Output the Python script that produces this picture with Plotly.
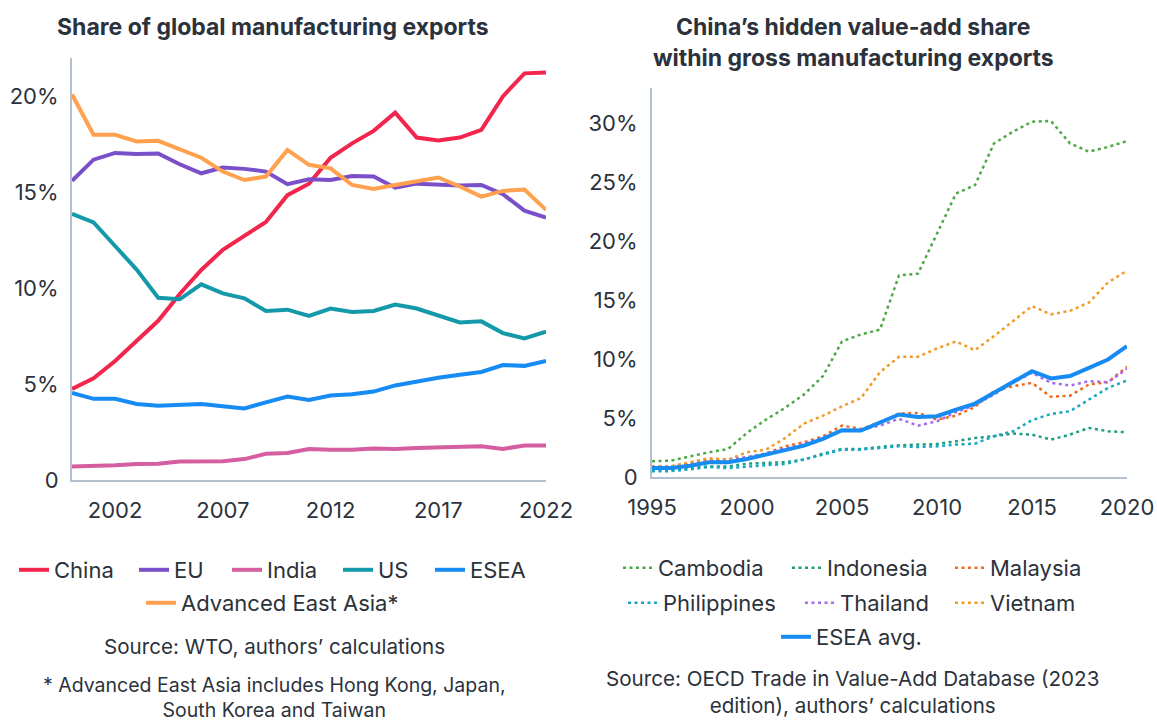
import plotly.graph_objects as go

# ---------------- Left chart data: share of global manufacturing exports (%)
years_left = list(range(2000, 2023))
china = [4.75, 5.3, 6.2, 7.25, 8.3, 9.7, 10.95, 12.0, 12.75, 13.45, 14.85, 15.45, 16.8,
         17.55, 18.2, 19.15, 17.85, 17.7, 17.85, 18.25, 20.0, 21.2, 21.25]
eu = [15.6, 16.7, 17.05, 16.99, 17.02, 16.46, 15.99, 16.29, 16.22, 16.08, 15.42, 15.68, 15.64,
      15.85, 15.82, 15.24, 15.45, 15.38, 15.35, 15.38, 14.9, 14.04, 13.68]
india = [0.7, 0.72, 0.77, 0.83, 0.85, 0.97, 0.97, 0.98, 1.09, 1.37, 1.41, 1.62, 1.58,
         1.58, 1.64, 1.62, 1.67, 1.69, 1.69, 1.76, 1.62, 1.8, 1.8]
us = [13.87, 13.43, 12.2, 10.97, 9.5, 9.42, 10.2, 9.73, 9.47, 8.81, 8.88, 8.55, 8.94,
      8.76, 8.81, 9.15, 8.94, 8.55, 8.21, 8.27, 7.66, 7.38, 7.73]
esea = [4.54, 4.23, 4.23, 3.96, 3.87, 3.93, 3.96, 3.84, 3.73, 4.05, 4.35, 4.17, 4.4,
        4.47, 4.61, 4.93, 5.14, 5.33, 5.49, 5.63, 5.99, 5.95, 6.2]
adv_east_asia = [20.1, 18.0, 18.0, 17.65, 17.68, 17.26, 16.8, 16.08, 15.64, 15.82, 17.21, 16.43, 16.25,
                 15.38, 15.17, 15.38, 15.6, 15.77, 15.3, 14.77, 15.07, 15.14, 14.08]
left_xticks = [2002, 2007, 2012, 2017, 2022]
left_yticks = [0, 5, 10, 15, 20]
left_yticklabels = ["0", "5%", "10%", "15%", "20%"]

# ---------------- Right chart data: China's hidden value-add share (%)
years_right = list(range(1995, 2021))
cambodia = [1.33, 1.39, 1.75, 2.1, 2.38, 3.74, 4.87, 5.86, 7.0, 8.56, 11.5, 12.1, 12.5,
            17.1, 17.25, 20.65, 24.05, 24.76, 28.3, 29.3, 30.14, 30.2, 28.3, 27.6, 28.0, 28.5]
indonesia = [0.57, 0.6, 0.75, 0.9, 0.9, 1.13, 1.2, 1.25, 1.47, 1.98, 2.38, 2.38, 2.55,
             2.69, 2.75, 2.8, 3.03, 3.31, 3.46, 3.68, 3.6, 3.17, 3.6, 4.16, 3.88, 3.8]
malaysia = [0.9, 0.9, 1.2, 1.45, 1.3, 1.6, 2.0, 2.6, 2.95, 3.45, 4.36, 4.08, 4.65,
            5.38, 5.44, 4.87, 5.2, 5.95, 7.28, 7.7, 7.99, 6.8, 6.9, 7.85, 8.05, 9.35]
philippines = [0.48, 0.5, 0.65, 0.85, 0.76, 0.9, 1.0, 1.1, 1.47, 1.9, 2.32, 2.32, 2.46,
               2.6, 2.55, 2.6, 2.75, 2.83, 3.46, 3.88, 4.82, 5.35, 5.58, 6.57, 7.56, 8.19]
thailand = [0.85, 0.85, 1.1, 1.3, 1.53, 1.7, 2.0, 2.4, 2.8, 3.3, 3.95, 4.0, 4.36,
            4.93, 4.36, 4.73, 5.5, 6.1, 7.0, 8.0, 8.84, 7.99, 7.76, 8.13, 8.05, 9.18]
vietnam = [0.85, 0.9, 1.25, 1.6, 1.47, 2.1, 2.32, 3.3, 4.53, 5.2, 6.0, 6.7, 8.9,
           10.2, 10.2, 10.9, 11.5, 10.76, 11.95, 13.2, 14.5, 13.8, 14.1, 14.8, 16.5, 17.5]
esea_avg = [0.76, 0.76, 0.96, 1.25, 1.25, 1.53, 1.9, 2.27, 2.66, 3.23, 3.97, 3.94, 4.59,
            5.3, 5.1, 5.16, 5.72, 6.23, 7.14, 8.05, 8.98, 8.36, 8.56, 9.26, 9.97, 11.1]
right_xticks = [1995, 2000, 2005, 2010, 2015, 2020]
right_yticks = [0, 5, 10, 15, 20, 25, 30]
right_yticklabels = ["0", "5%", "10%", "15%", "20%", "25%", "30%"]

W, H = 1157, 724
FONT = "Inter"
TXT = "#2B323C"
AXIS = "#B3C0CE"


def px(x):
    return x / W


def py(y):
    return 1 - y / H


fig = go.Figure()

# (name, values, colour, legend id, legend text x, legend row y)
left_series = [
    ("China", china, "#F2254C", "legend", 54, 570),
    ("EU", eu, "#7A50CA", "legend2", 174, 570),
    ("India", india, "#D45EA0", "legend3", 267, 570),
    ("US", us, "#1399A9", "legend4", 378, 570),
    ("ESEA", esea, "#168BF3", "legend5", 470, 570),
    ("Advanced East Asia*", adv_east_asia, "#FFA14E", "legend6", 181, 603),
]
right_series = [
    ("Cambodia", cambodia, "#4CA845", "legend7", 658, 568),
    ("Indonesia", indonesia, "#1C9E80", "legend8", 827, 568),
    ("Malaysia", malaysia, "#EE6A24", "legend9", 990, 568),
    ("Philippines", philippines, "#18A6C4", "legend10", 663, 603),
    ("Thailand", thailand, "#A46CF2", "legend11", 840, 603),
    ("Vietnam", vietnam, "#F29A26", "legend12", 990, 603),
]

legend_common = dict(orientation="h", xanchor="left", yanchor="middle",
                     font=dict(family=FONT, size=22, color=TXT), bgcolor="rgba(0,0,0,0)",
                     itemclick=False, itemdoubleclick=False, borderwidth=0)
legends = {}

for name, vals, color, lg, tx, ty in left_series:
    fig.add_trace(go.Scatter(x=years_left, y=vals, name=name, mode="lines",
                             line=dict(color=color, width=4), xaxis="x", yaxis="y",
                             legend=lg))
    legends[lg] = dict(x=px(tx - 40), y=py(ty), **legend_common)

for name, vals, color, lg, tx, ty in right_series:
    fig.add_trace(go.Scatter(x=years_right, y=vals, name=name, mode="lines",
                             line=dict(color=color, width=2.5, dash="3px,3.5px"),
                             xaxis="x2", yaxis="y2", legend=lg))
    legends[lg] = dict(x=px(tx - 40), y=py(ty), **legend_common)

fig.add_trace(go.Scatter(x=years_right, y=esea_avg, name="ESEA avg.", mode="lines",
                         line=dict(color="#168BF3", width=4), xaxis="x2", yaxis="y2",
                         legend="legend13"))
legends["legend13"] = dict(x=px(816 - 40), y=py(637), **legend_common)

axis_common = dict(showgrid=False, zeroline=False, showline=True, linecolor=AXIS,
                   linewidth=2, ticks="", tickfont=dict(family=FONT, size=22, color=TXT),
                   fixedrange=True, automargin=False)

fig.update_layout(
    width=W, height=H,
    margin=dict(l=0, r=0, t=0, b=0, autoexpand=False),
    paper_bgcolor="white", plot_bgcolor="white",
    font=dict(family=FONT, color=TXT),
    xaxis=dict(domain=[px(72), px(546)], range=[2000, 2022], tickvals=left_xticks,
               anchor="y", ticklabelstandoff=10, **axis_common),
    yaxis=dict(domain=[py(480), py(58)], range=[0, 22], tickvals=left_yticks,
               ticktext=left_yticklabels, anchor="x", ticklabelstandoff=7, **axis_common),
    xaxis2=dict(domain=[px(652), px(1127)], range=[1995, 2020], tickvals=right_xticks,
                anchor="y2", ticklabelstandoff=10, **axis_common),
    yaxis2=dict(domain=[py(477), py(88)], range=[0, 33], tickvals=right_yticks,
                ticktext=right_yticklabels, anchor="x2", ticklabelstandoff=8, **axis_common),
    showlegend=True,
    **legends,
)

annotations = [
    dict(text="<b>Share of global manufacturing exports</b>", x=px(273), y=py(27), size=23),
    dict(text="<b>China’s hidden value-add share</b>", x=px(853), y=py(27), size=23),
    dict(text="<b>within gross manufacturing exports</b>", x=px(853), y=py(58), size=23),
    dict(text="Source: WTO, authors’ calculations", x=px(274), y=py(646), size=20.6),
    dict(text="* Advanced East Asia includes Hong Kong, Japan,<br>South Korea and Taiwan",
         x=px(274), y=py(697), size=19.5),
    dict(text="Source: OECD Trade in Value-Add Database (2023<br>edition), authors’ calculations",
         x=px(852), y=py(692), size=20.6),
]
for a in annotations:
    fig.add_annotation(text=a["text"], x=a["x"], y=a["y"], xref="paper", yref="paper",
                       xanchor="center", yanchor="middle", showarrow=False,
                       font=dict(family=FONT, size=a["size"], color=TXT))

fig.write_html(
    "out.html",
    config={"displayModeBar": False},
    post_script="document.body.style.margin='0px';document.body.style.overflow='hidden';",
)
